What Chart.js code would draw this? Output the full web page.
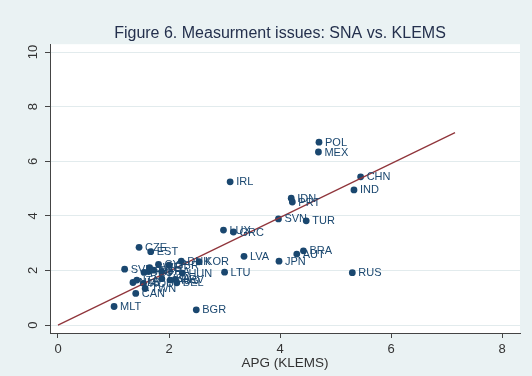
<!DOCTYPE html>
<html>
<head>
<meta charset="utf-8">
<script src="https://cdn.jsdelivr.net/npm/chart.js@4"></script>
<style>
  body { margin: 0; background: #eaf2f3; }
  #wrap { width: 532px; height: 376px; }
</style>
</head>
<body>
<div id="wrap"><canvas id="scatter" width="532" height="376"></canvas></div>
<script>
// country codes, labour productivity growth (KLEMS, x) vs (SNA, y)
const countries = ['POL', 'MEX', 'IRL', 'CHN', 'IND', 'IDN', 'PRT', 'SVN', 'TUR', 'LUX', 'GRC',
  'CZE', 'EST', 'LVA', 'JPN', 'AUT', 'BRA', 'RUS', 'DNK', 'KOR', 'HUN', 'LTU', 'MLT', 'BGR',
  'SVK', 'CYP', 'SWE', 'GBR', 'ESP', 'FRA', 'DEU', 'FIN', 'NLD', 'ITA', 'USA', 'AUS', 'ROU',
  'TWN', 'HRV', 'BEL', 'CAN'];
const klems = [4.70, 4.69, 3.10, 5.45, 5.33, 4.20, 4.22, 3.97, 4.47, 2.98, 3.16,
  1.46, 1.67, 3.35, 3.98, 4.30, 4.42, 5.30, 2.22, 2.54, 2.24, 3.00, 1.01, 2.49,
  1.20, 1.81, 1.65, 2.00, 1.72, 1.87, 1.55, 1.63, 1.35, 1.42, 1.87, 2.02, 1.54,
  1.57, 2.11, 2.14, 1.40];
const sna = [6.70, 6.34, 5.25, 5.43, 4.95, 4.65, 4.51, 3.89, 3.82, 3.48, 3.41,
  2.85, 2.69, 2.52, 2.34, 2.60, 2.72, 1.92, 2.34, 2.32, 1.90, 1.94, 0.68, 0.56,
  2.05, 2.22, 2.10, 2.20, 2.01, 1.95, 1.93, 1.96, 1.56, 1.65, 1.70, 1.65, 1.53,
  1.34, 1.67, 1.55, 1.16];

// fitted line end points
const fitX = [0, 7.15];
const fitY = [0, 7.05];

const xTicks = [0, 2, 4, 6, 8];
const yTicks = [0, 2, 4, 6, 8, 10];

const navy = '#1a476f';
const font = 'Liberation Sans, Arial, Helvetica, sans-serif';

const bgPlugin = {
  id: 'bg',
  beforeDraw(chart) {
    const { ctx, chartArea: a } = chart;
    ctx.save();
    ctx.fillStyle = '#eaf2f3';
    ctx.fillRect(0, 0, chart.width, chart.height);
    ctx.fillStyle = '#ffffff';
    ctx.fillRect(a.left, a.top, a.right - a.left, a.bottom - a.top);
    ctx.restore();
  }
};

// y tick labels are turned on their side, the way Stata draws them
const yLabelPlugin = {
  id: 'yLabels',
  afterDraw(chart) {
    const ctx = chart.ctx;
    const y = chart.scales.y;
    ctx.save();
    ctx.font = '13px ' + font;
    ctx.fillStyle = '#333';
    ctx.textAlign = 'center';
    ctx.textBaseline = 'middle';
    yTicks.forEach(v => {
      ctx.save();
      ctx.translate(33, y.getPixelForValue(v));
      ctx.rotate(-Math.PI / 2);
      ctx.fillText(String(v), 0, 0);
      ctx.restore();
    });
    ctx.restore();
  }
};

const labelPlugin = {
  id: 'pointLabels',
  afterDatasetsDraw(chart) {
    const ctx = chart.ctx;
    const meta = chart.getDatasetMeta(1);
    ctx.save();
    ctx.font = '11px ' + font;
    ctx.fillStyle = navy;
    ctx.textBaseline = 'middle';
    meta.data.forEach((pt, i) => {
      ctx.fillText(countries[i], pt.x + 6, pt.y + 0.5);
    });
    ctx.restore();
  }
};

const ctx = document.getElementById('scatter').getContext('2d');
const chart = new Chart(ctx, {
  type: 'scatter',
  data: {
    datasets: [
      {
        type: 'line',
        data: fitX.map((x, i) => ({ x: x, y: fitY[i] })),
        borderColor: '#90353b',
        borderWidth: 1.3,
        pointRadius: 0,
        fill: false
      },
      {
        data: klems.map((x, i) => ({ x: x, y: sna[i] })),
        backgroundColor: navy,
        borderColor: navy,
        pointRadius: 3.4,
        borderWidth: 0
      }
    ]
  },
  options: {
    responsive: false,
    animation: false,
    layout: { padding: { left: 40, right: 12, top: 0, bottom: 0 } },
    plugins: {
      legend: { display: false },
      tooltip: { enabled: false },
      title: {
        display: true,
        text: 'Figure 6. Measurment issues: SNA vs. KLEMS',
        color: '#24304d',
        font: { family: font, size: 16, weight: 'normal' },
        padding: { top: 24, bottom: 1 }
      }
    },
    scales: {
      x: {
        type: 'linear',
        min: -0.144,
        max: 8.32,
        afterBuildTicks: s => { s.ticks = xTicks.map(v => ({ value: v })); },
        afterFit: s => { s.height = 43; },
        grid: { drawOnChartArea: false, color: '#444', tickColor: '#444', tickLength: 5 },
        border: { color: '#444' },
        ticks: { color: '#333', font: { family: font, size: 13 }, padding: 4, maxRotation: 0 },
        title: {
          display: true,
          text: 'APG (KLEMS)',
          color: '#333',
          font: { family: font, size: 13.5 },
          padding: { top: 0, bottom: 5 }
        }
      },
      y: {
        type: 'linear',
        min: -0.29,
        max: 10.29,
        afterBuildTicks: s => { s.ticks = yTicks.map(v => ({ value: v })); },
        afterFit: s => { s.width = 10; },
        grid: { color: '#e2ebed', tickColor: '#444', tickLength: 5 },
        border: { color: '#444' },
        ticks: { display: false }
      }
    }
  },
  plugins: [bgPlugin, labelPlugin, yLabelPlugin]
});
</script>
</body>
</html>
